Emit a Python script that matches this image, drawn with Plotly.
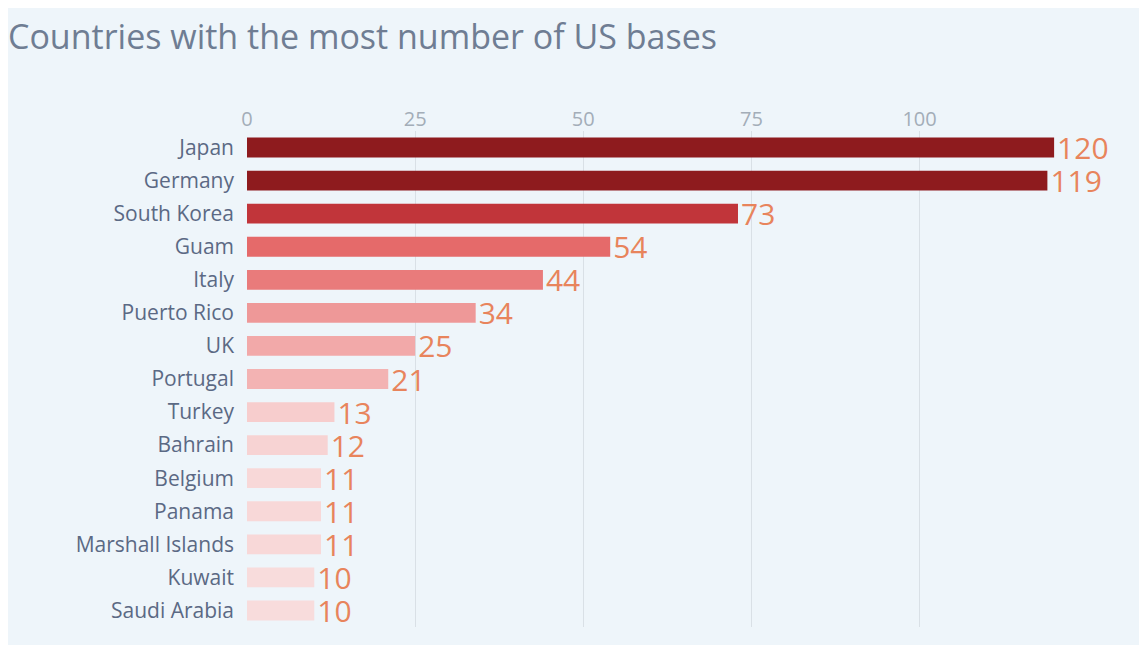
import plotly.graph_objects as go

# data
countries = ["Japan", "Germany", "South Korea", "Guam", "Italy", "Puerto Rico", "UK",
             "Portugal", "Turkey", "Bahrain", "Belgium", "Panama", "Marshall Islands",
             "Kuwait", "Saudi Arabia"]
bases = [120, 119, 73, 54, 44, 34, 25, 21, 13, 12, 11, 11, 11, 10, 10]
bar_colors = ["#8e1b1e", "#8e1b1e", "#c1353a", "#e56a6a", "#e97b7b", "#ee9898", "#f2a9a9",
              "#f3b3b3", "#f7cdcd", "#f7d3d3", "#f8d8d8", "#f8d8d8", "#f8d8d8", "#f8dcdc", "#f8dcdc"]

fig = go.Figure(go.Bar(
    x=bases, y=countries, orientation="h",
    marker=dict(color=bar_colors, line=dict(width=0)),
    width=0.6,
    text=[str(v) for v in bases], textposition="outside",
    constraintext="none",
    textfont=dict(size=30, color="#e8845c", family="Open Sans"),
    cliponaxis=False,
))

fig.update_layout(
    width=1147, height=645,
    paper_bgcolor="#eef5fa", plot_bgcolor="#eef5fa",
    margin=dict(l=239, r=0, t=123, b=26),
    showlegend=False,
    font=dict(family="Open Sans", color="#5b6984"),
    title=dict(text="Countries with the most number of US bases", x=0.0, xanchor="left",
               y=0.955, yanchor="middle", font=dict(size=34, color="#6f7d93")),
    uniformtext=dict(minsize=30, mode="show"),
)
fig.update_xaxes(side="top", range=[0, 135], tickvals=[0, 25, 50, 75, 100],
                 tickfont=dict(size=20, color="#a3adb8"), showgrid=True,
                 gridcolor="#d9e0e6", zeroline=False, showline=False)
fig.update_yaxes(autorange="reversed", tickfont=dict(size=21, color="#5b6984"),
                 showgrid=False, ticks="", ticklabelstandoff=12)

fig.write_html("out.html")
